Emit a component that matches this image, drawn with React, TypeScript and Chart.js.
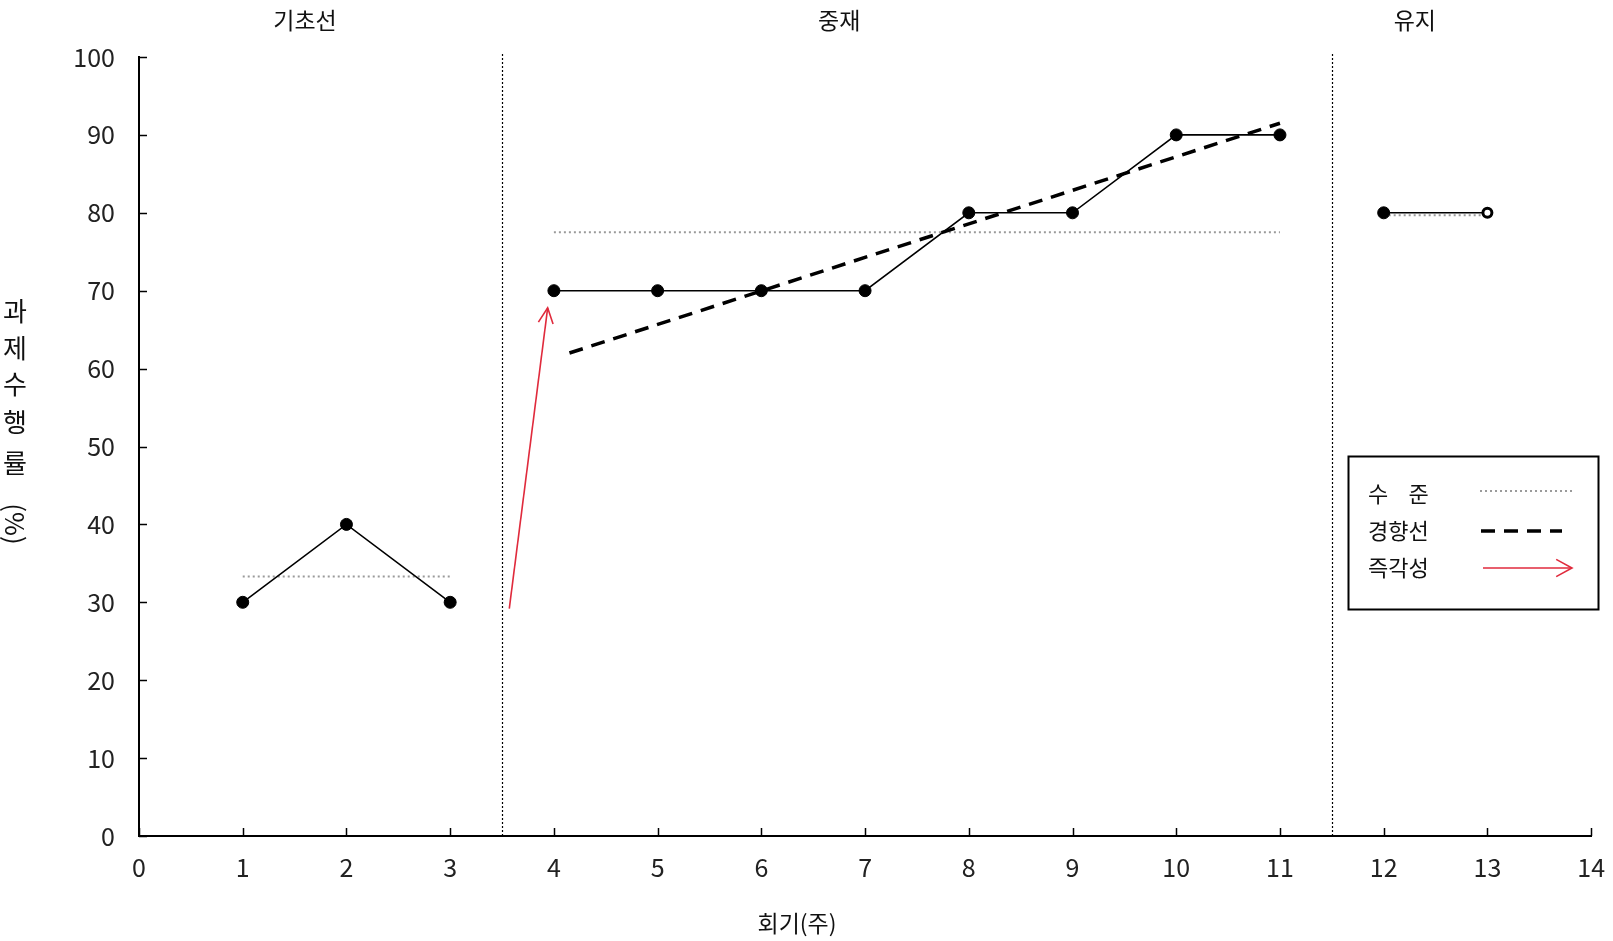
import React, { useEffect, useRef } from 'react';
import { Chart, registerables } from 'chart.js';

Chart.register(...registerables);

// ---- data ----
const baselineX = [1, 2, 3];
const baselineY = [30, 40, 30];
const interventionX = [4, 5, 6, 7, 8, 9, 10, 11];
const interventionY = [70, 70, 70, 70, 80, 80, 90, 90];
const maintenanceX = [12, 13];
const maintenanceY = [80, 80];

const levelLabels = ['기초선', '중재', '유지'];
const levelStartX = [1, 4, 12];
const levelEndX = [3, 11, 13];
const levelValues = [33.3, 77.5, 79.7];

const trendX = [4.15, 11.0];
const trendY = [62, 91.5];

const arrowX = [3.57, 3.94];
const arrowY = [29.2, 67.8];

const phaseLabels = ['기초선', '중재', '유지'];
const phaseLabelX = [1.6, 6.75, 12.3];
const phaseDividers = [3.5, 11.5];

const xMin = 0;
const xMax = 14;
const yMin = 0;
const yMax = 100;
const yStep = 10;

const xAxisTitle = '회기(주)';
const yAxisTitleChars = ['과', '제', '수', '행', '률'];
const yAxisTitleUnit = '(%)';
const legendLabels = ['수 준', '경향선', '즉각성'];

const FONT = '"Noto Sans CJK KR", "Noto Sans", sans-serif';
const RED = '#e02a3c';
const GRAY_DOT = '#9a9a9a';

function pts(xs: number[], ys: number[]) {
  return xs.map((x, i) => ({ x, y: ys[i] }));
}

function drawArrowHead(ctx: CanvasRenderingContext2D, x1: number, y1: number, x2: number, y2: number, len: number, ang: number) {
  const a = Math.atan2(y2 - y1, x2 - x1);
  ctx.beginPath();
  ctx.moveTo(x2 - len * Math.cos(a - ang), y2 - len * Math.sin(a - ang));
  ctx.lineTo(x2, y2);
  ctx.lineTo(x2 - len * Math.cos(a + ang), y2 - len * Math.sin(a + ang));
  ctx.stroke();
}

const decorPlugin = {
  id: 'decor',
  beforeDatasetsDraw(chart: any) {
    const ctx = chart.ctx as CanvasRenderingContext2D;
    const xs = chart.scales.x;
    const ys = chart.scales.y;
    const area = chart.chartArea;
    ctx.save();
    // phase dividers
    ctx.strokeStyle = '#000';
    ctx.lineWidth = 1.2;
    ctx.setLineDash([2, 2]);
    phaseDividers.forEach((v) => {
      const px = Math.round(xs.getPixelForValue(v)) + 0.5;
      ctx.beginPath();
      ctx.moveTo(px, area.top - 3);
      ctx.lineTo(px, area.bottom);
      ctx.stroke();
    });
    ctx.setLineDash([]);
    // inward ticks
    ctx.lineWidth = 1.5;
    for (let v = yMin; v <= yMax; v += yStep) {
      const py = Math.round(ys.getPixelForValue(v)) + 0.5;
      ctx.beginPath();
      ctx.moveTo(area.left, py);
      ctx.lineTo(area.left + 8, py);
      ctx.stroke();
    }
    for (let v = xMin; v <= xMax; v += 1) {
      const px = Math.round(xs.getPixelForValue(v)) + 0.5;
      ctx.beginPath();
      ctx.moveTo(px, area.bottom);
      ctx.lineTo(px, area.bottom - 8);
      ctx.stroke();
    }
    ctx.restore();
  },
  afterDatasetsDraw(chart: any) {
    const ctx = chart.ctx as CanvasRenderingContext2D;
    const xs = chart.scales.x;
    const ys = chart.scales.y;
    ctx.save();
    // arrow head of immediacy arrow
    ctx.strokeStyle = RED;
    ctx.lineWidth = 1.6;
    drawArrowHead(
      ctx,
      xs.getPixelForValue(arrowX[0]), ys.getPixelForValue(arrowY[0]),
      xs.getPixelForValue(arrowX[1]), ys.getPixelForValue(arrowY[1]),
      17, 0.45
    );
    // phase labels
    ctx.fillStyle = '#111';
    ctx.font = `23px ${FONT}`;
    ctx.textAlign = 'center';
    ctx.textBaseline = 'middle';
    phaseLabels.forEach((t, i) => {
      ctx.fillText(t, xs.getPixelForValue(phaseLabelX[i]), 20);
    });
    // x axis title
    ctx.font = `23px ${FONT}`;
    ctx.fillText(xAxisTitle, 797, 923);
    // y axis title (stacked)
    ctx.font = `26px ${FONT}`;
    const yPos = [311, 348, 384, 422, 463];
    yAxisTitleChars.forEach((c, i) => ctx.fillText(c, 15, yPos[i]));
    ctx.save();
    ctx.translate(15, 524);
    ctx.rotate(Math.PI / 2);
    ctx.fillText(yAxisTitleUnit, 0, 0);
    ctx.restore();

    // legend
    const lx = 1348, ly = 456, lw = 250, lh = 153;
    ctx.strokeStyle = '#000';
    ctx.lineWidth = 2;
    ctx.strokeRect(lx + 0.5, ly + 0.5, lw, lh);
    ctx.font = `22px ${FONT}`;
    ctx.textAlign = 'left';
    const rowY = [494, 531, 568];
    const refW = ctx.measureText(legendLabels[1]).width;
    legendLabels.forEach((t, i) => {
      const chars = t.replace(/\s+/g, '');
      if (chars.length < t.length) {
        const first = chars[0];
        const last = chars[chars.length - 1];
        ctx.fillText(first, 1368, rowY[i]);
        const w = ctx.measureText(last).width;
        ctx.fillText(last, 1368 + refW - w, rowY[i]);
      } else {
        ctx.fillText(t, 1368, rowY[i]);
      }
    });
    // samples
    ctx.strokeStyle = GRAY_DOT;
    ctx.lineWidth = 2;
    ctx.setLineDash([2, 3]);
    ctx.beginPath();
    ctx.moveTo(1480, 491);
    ctx.lineTo(1572, 491);
    ctx.stroke();
    ctx.strokeStyle = '#000';
    ctx.lineWidth = 3.5;
    ctx.setLineDash([14, 9]);
    ctx.beginPath();
    ctx.moveTo(1481, 531);
    ctx.lineTo(1562, 531);
    ctx.stroke();
    ctx.setLineDash([]);
    ctx.strokeStyle = RED;
    ctx.lineWidth = 1.6;
    ctx.beginPath();
    ctx.moveTo(1483, 568);
    ctx.lineTo(1572, 568);
    ctx.stroke();
    drawArrowHead(ctx, 1483, 568, 1572, 568, 18, 0.5);
    ctx.restore();
  },
};

export default function App() {
  const ref = useRef<HTMLCanvasElement>(null);
  useEffect(() => {
    if (!ref.current) return;
    const lineDs = (xs: number[], ys: number[], hollowLast = false) => ({
      type: 'line' as const,
      data: pts(xs, ys),
      borderColor: '#000',
      borderWidth: 1.6,
      pointRadius: xs.map((_, i) => (hollowLast && i === xs.length - 1 ? 4.5 : 6)),
      pointBackgroundColor: xs.map((_, i) => (hollowLast && i === xs.length - 1 ? '#fff' : '#000')),
      pointBorderColor: '#000',
      pointBorderWidth: xs.map((_, i) => (hollowLast && i === xs.length - 1 ? 3 : 1)),
      fill: false,
      tension: 0,
      order: 1,
    });
    const levelDs = levelValues.map((v, i) => ({
      type: 'line' as const,
      label: `level-${levelLabels[i]}`,
      data: [{ x: levelStartX[i], y: v }, { x: levelEndX[i], y: v }],
      borderColor: GRAY_DOT,
      borderWidth: 2,
      borderDash: [2, 3],
      pointRadius: 0,
      fill: false,
      order: 3,
    }));
    const chart = new Chart(ref.current, {
      type: 'line',
      data: {
        datasets: [
          ...levelDs,
          {
            type: 'line',
            label: 'trend',
            data: pts(trendX, trendY),
            borderColor: '#000',
            borderWidth: 3.5,
            borderDash: [14, 9],
            pointRadius: 0,
            fill: false,
            order: 2,
          },
          {
            type: 'line',
            label: 'arrow',
            data: pts(arrowX, arrowY),
            borderColor: RED,
            borderWidth: 1.6,
            pointRadius: 0,
            fill: false,
            order: 2,
          },
          { label: 'baseline', ...lineDs(baselineX, baselineY) },
          { label: 'intervention', ...lineDs(interventionX, interventionY) },
          { label: 'maintenance', ...lineDs(maintenanceX, maintenanceY, true) },
        ] as any,
      },
      options: {
        animation: false,
        responsive: false,
        devicePixelRatio: 1,
        layout: { padding: { left: 0, top: 57, right: 11, bottom: 0 } },
        plugins: { legend: { display: false }, tooltip: { enabled: false } },
        scales: {
          x: {
            type: 'linear',
            min: xMin,
            max: xMax,
            grid: { display: false },
            border: { display: true, color: '#000', width: 2 },
            ticks: {
              stepSize: 1,
              padding: 8,
              color: '#222',
              font: { family: FONT, size: 25 },
              maxRotation: 0,
            },
            afterFit: (s: any) => { s.height = 105; },
          },
          y: {
            type: 'linear',
            min: yMin,
            max: yMax,
            grid: { display: false },
            border: { display: true, color: '#000', width: 2 },
            ticks: {
              stepSize: yStep,
              padding: 16,
              color: '#222',
              font: { family: FONT, size: 25 },
            },
            afterFit: (s: any) => { s.width = 139; },
          },
        },
      },
      plugins: [decorPlugin],
    });
    return () => chart.destroy();
  }, []);
  return (
    <div style={{ position: 'fixed', left: 0, top: 0, width: 1613, height: 941, background: '#fff' }}>
      <canvas ref={ref} width={1613} height={941} style={{ display: 'block' }} />
    </div>
  );
}
